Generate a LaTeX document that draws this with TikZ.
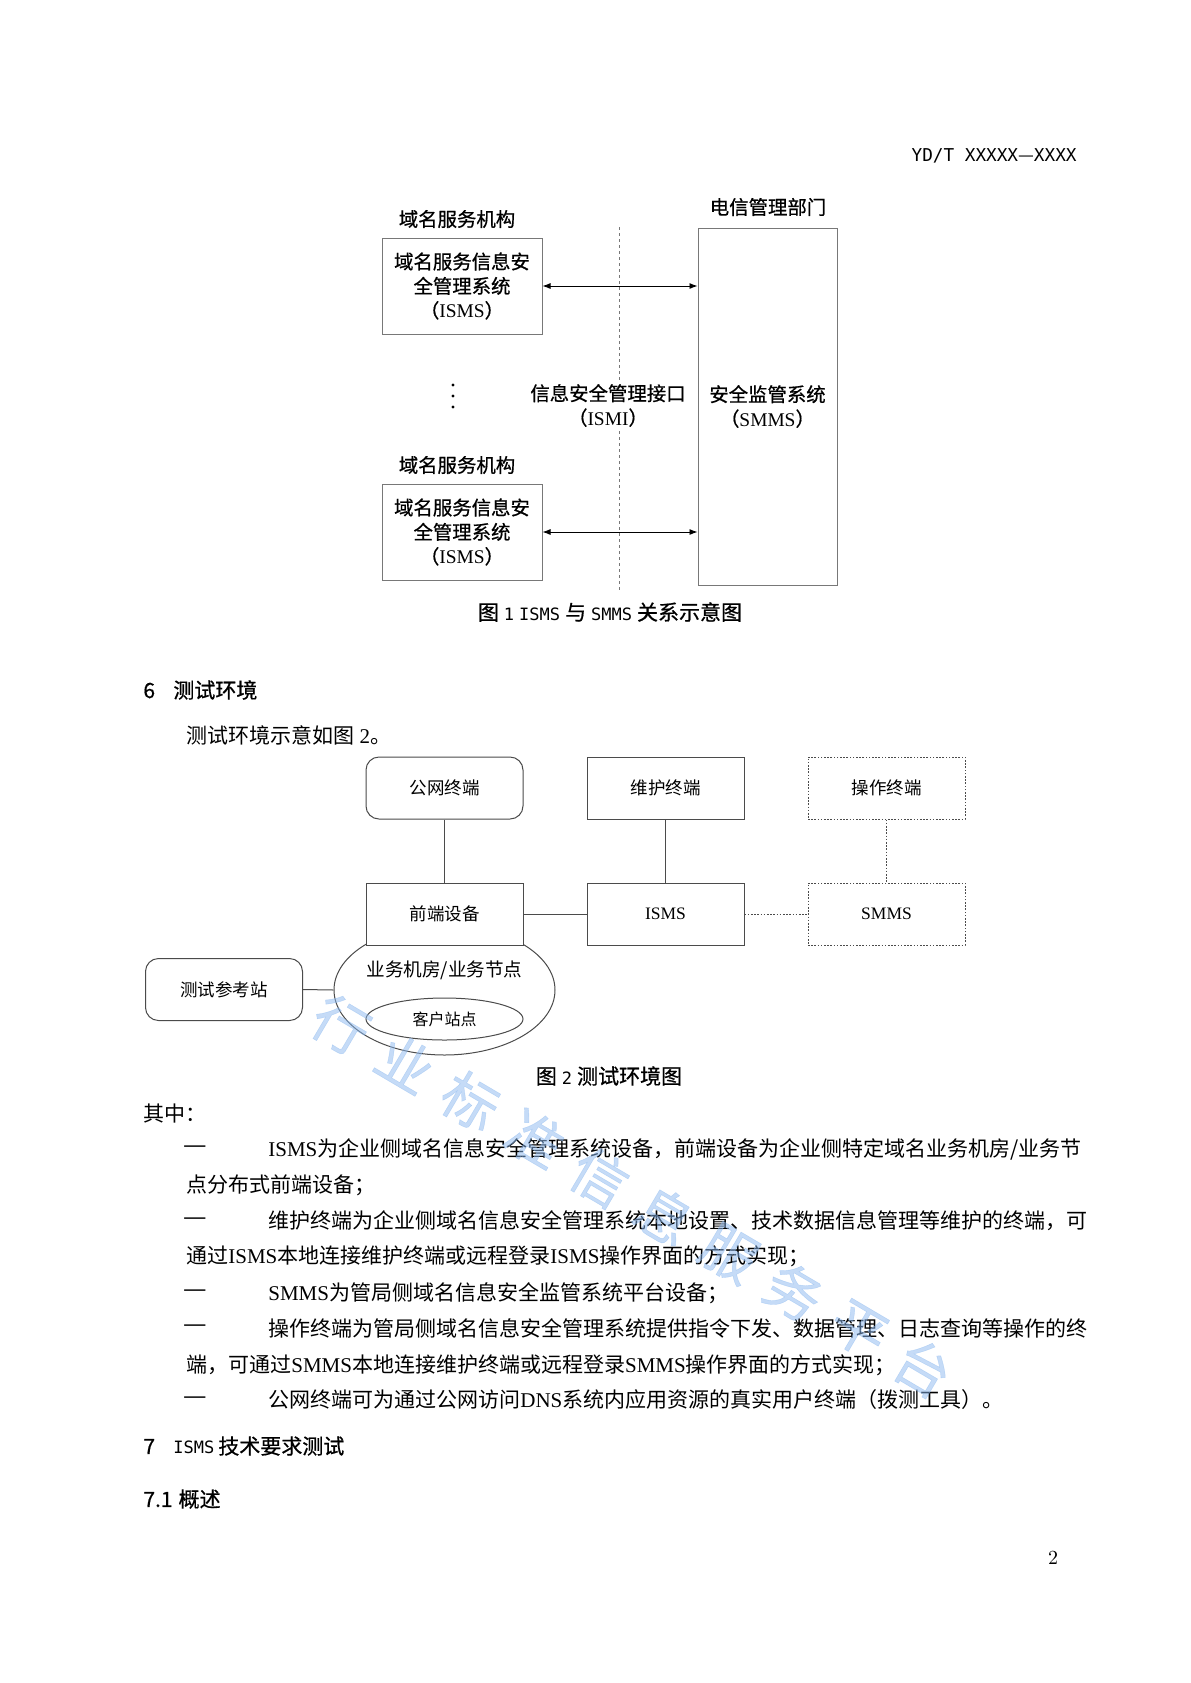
\documentclass[tikz,border=0pt]{standalone}
\usepackage{fontspec}
\newfontfamily\cjk{Noto Sans CJK SC}
\newfontfamily\cjkh[FakeBold=0.7]{Noto Sans CJK SC}
\newfontfamily\tnr{Liberation Serif}
\newfontfamily\mono{DejaVu Sans Mono}
\usetikzlibrary{arrows.meta,shapes.geometric}
\definecolor{fgray}{RGB}{120,120,120}
\definecolor{lgray}{RGB}{75,75,75}
\definecolor{wmc}{RGB}{140,185,240}
\newcommand\hw[1]{{\mono\fontsize{8.5}{12}\selectfont #1}}
\tikzset{
  txA/.style={font=\cjkh\fontsize{9.7}{12.2}\selectfont, align=center, inner sep=0pt},
  boxA/.style={txA, draw=fgray, line width=0.5pt, minimum width=80pt, minimum height=48pt},
  arrA/.style={draw=black, line width=0.45pt, {Latex[length=4pt,width=3pt]}-{Latex[length=4pt,width=3pt]}},
  dashA/.style={draw=fgray, line width=0.45pt, dash pattern=on 1.6pt off 1.4pt},
  hd/.style={font=\cjkh\fontsize{10.5}{12}\selectfont, inner sep=0pt},
  body/.style={font=\cjk\fontsize{10.5}{12}\selectfont, inner sep=0pt, anchor=west},
  bdash/.style={font=\tnr\bfseries\fontsize{10.5}{12}\selectfont, inner sep=0pt, anchor=west},
  fb/.style={draw=lgray, line width=0.5pt, minimum width=78.5pt, minimum height=31pt, inner sep=0pt, font=\cjk\fontsize{8.75}{10}\selectfont},
  fbr/.style={fb, rounded corners=6.5pt},
  fbd/.style={fb, dash pattern=on 0.8pt off 0.8pt},
  ln/.style={draw=lgray, line width=0.5pt},
  lnd/.style={ln, dash pattern=on 0.8pt off 0.8pt},
  wmk/.style={font=\cjkh\fontsize{28}{28}\selectfont, text=wmc, opacity=0.5, rotate=-30.5, inner sep=0pt},
}
\begin{document}
\begin{tikzpicture}[x=0.5pt,y=-0.5pt,font=\cjk]
\fill[white] (0,0) rectangle (1190,1683);
\useasboundingbox (0,0) rectangle (1190,1683);

% header
\node[anchor=east, inner sep=0pt, font=\mono\fontsize{8.85}{10}\selectfont] (hdr) at (1077,156) {YD/T XXXXX{\cjk —}XXXX};

% ---------- Figure 1 ----------
\node[txA] (orgA) at (457,219) {域名服务机构};
\node[txA] (dept) at (768,207) {电信管理部门};
\node[boxA] (isms1) at (462,286) {域名服务信息安\\全管理系统\\（{\tnr ISMS}）};
\node[txA, draw=fgray, line width=0.5pt, minimum width=69.5pt, minimum height=178.5pt] (smms1) at (767.5,406.5) {安全监管系统\\（{\tnr SMMS}）};
\coordinate (dTop) at (619,227);
\coordinate (dBot) at (619,592);
\draw[dashA] (dTop) -- (dBot);
\node[txA, fill=white, inner sep=1.5pt] (ismi) at (608,405.5) {信息安全管理接口\\（{\tnr ISMI}）};
\draw[arrA] (isms1.east) -- (isms1.east -| smms1.west);
\node[txA] (orgB) at (457,465) {域名服务机构};
\node[boxA] (isms2) at (462,532) {域名服务信息安\\全管理系统\\（{\tnr ISMS}）};
\draw[arrA] (isms2.east) -- (isms2.east -| smms1.west);
\foreach \yy in {385,396,407} \fill (453,\yy) circle[radius=1.6];
\node[hd] (cap1) at (610,612) {图\hw{\hspace{2.5pt}1\hspace{2.5pt}ISMS\hspace{2.5pt}}与\hw{\hspace{2.5pt}SMMS\hspace{2.5pt}}关系示意图};

% ---------- Section 6 ----------
\node[hd, anchor=west] (h6) at (143,690) {\makebox[15pt][l]{6}测试环境};
\node[body] (p6) at (186,735) {测试环境示意如图{\tnr\ 2}。};

% ---------- Figure 2 ----------
\node[draw=lgray, line width=0.5pt, ellipse, minimum width=110.5pt, minimum height=65pt, inner sep=0pt] (room) at (444.5,990) {};
\node[font=\cjk\fontsize{9.3}{10}\selectfont, inner sep=0pt] (roomlbl) at (444.5,970) {业务机房/业务节点};
\node[draw=lgray, line width=0.5pt, ellipse, minimum width=78.5pt, minimum height=21pt, inner sep=0pt, font=\cjk\fontsize{8}{10}\selectfont] (site) at (444.5,1019) {客户站点};
\node[fb, fill=white] (qd) at (444.5,914) {前端设备};
\node[fbr] (gw) at (444.5,788) {公网终端};
\node[fb] (wh) at (665.5,788) {维护终端};
\node[fbd] (cz) at (886.5,788) {操作终端};
\node[fb] (isms) at (665.5,914) {{\tnr ISMS}};
\node[fbd] (smms) at (886.5,914) {{\tnr SMMS}};
\node[fbr] (ref) at (224,989.5) {测试参考站};
\draw[ln] (gw) -- (qd);
\draw[ln] (wh) -- (isms);
\draw[ln] (qd) -- (isms);
\draw[lnd] (isms) -- (smms);
\draw[lnd] (cz) -- (smms);
\draw[ln] (ref.east) -- (room.west);
\node[hd] (cap2) at (609,1076) {图\hw{\hspace{2.5pt}2\hspace{2.5pt}}测试环境图};

% ---------- Body text ----------
\node[body] (qz) at (143,1113) {其中：};
\node[bdash] (d1) at (184,1149) {—};
\node[body] (b1) at (268,1149) {{\tnr ISMS}为企业侧域名信息安全管理系统设备，前端设备为企业侧特定域名业务机房/业务节};
\node[body] (c1) at (186,1185) {点分布式前端设备；};
\node[bdash] (d2) at (184,1221) {—};
\node[body] (b2) at (268,1221) {维护终端为企业侧域名信息安全管理系统本地设置、技术数据信息管理等维护的终端，可};
\node[body] (c2) at (186,1256) {通过{\tnr ISMS}本地连接维护终端或远程登录{\tnr ISMS}操作界面的方式实现；};
\node[bdash] (d3) at (184,1293) {—};
\node[body] (b3) at (268,1293) {{\tnr SMMS}为管局侧域名信息安全监管系统平台设备；};
\node[bdash] (d4) at (184,1328) {—};
\node[body] (b4) at (268,1328) {操作终端为管局侧域名信息安全管理系统提供指令下发、数据管理、日志查询等操作的终};
\node[body] (c4) at (186,1365) {端，可通过{\tnr SMMS}本地连接维护终端或远程登录{\tnr SMMS}操作界面的方式实现；};
\node[bdash] (d5) at (184,1400) {—};
\node[body] (b5) at (268,1400) {公网终端可为通过公网访问{\tnr DNS}系统内应用资源的真实用户终端（拨测工具）。};

% ---------- Section 7 ----------
\node[hd, anchor=west] (h7) at (143,1446) {\makebox[15pt][l]{7}\hw{ISMS}\hspace{2pt}技术要求测试};
\node[hd, anchor=west] (h71) at (143,1499) {7.1\hspace{3pt}概述};

% page number
\node[font=\rmfamily\fontsize{10}{12}\selectfont, inner sep=0pt] (pg) at (1053,1558) {2};

% watermark
\foreach \ch [count=\i from 0] in {行,业,标,准,信,息,服,务,平,台}
  \node[wmk] (wm\i) at ({341+64.7*\i},{1025+38.1*\i}) {\ch};
\end{tikzpicture}
\end{document}
